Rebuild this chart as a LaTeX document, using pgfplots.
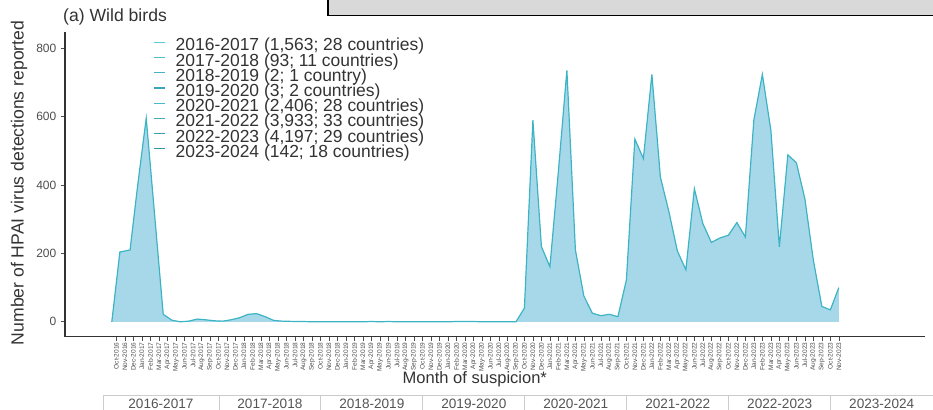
\documentclass[border=0pt]{standalone}
\usepackage{pgfplots}
\pgfplotsset{compat=1.18}
\usepackage{pgfplotstable}
\usepackage{fontspec}
\setmainfont{Liberation Sans}

\definecolor{areafill}{HTML}{A6D8EA}
\definecolor{arealine}{HTML}{3DB4C4}
\definecolor{sA}{HTML}{5CCBDA}
\definecolor{sB}{HTML}{4DBFCF}
\definecolor{sC}{HTML}{45B3C2}
\definecolor{sD}{HTML}{3AA5B4}
\definecolor{sE}{HTML}{48BBCB}
\definecolor{sF}{HTML}{40AEBE}
\definecolor{sG}{HTML}{38A2B2}
\definecolor{sH}{HTML}{2F96A5}
\definecolor{axisgrey}{HTML}{333333}
\definecolor{ticktext}{HTML}{4D4D4D}
\definecolor{stripline}{HTML}{CCCCCC}
\definecolor{striptext}{HTML}{555555}
\definecolor{panelgrey}{HTML}{D9D9D9}

% Monthly HPAI detections in wild birds, month 0 = October 2016
\pgfplotstableread{
month count
-0.55 0
0.4 204
1.6 210
2.5 400
3.5 595
4.5 309
5.5 22
6.5 5
7.5 0
8.5 2
9.5 8
10.5 6
11.5 3
12.5 2
13.5 6
14.5 12
15.5 22
16.5 24
17.5 15
18.5 4
19.5 2
21 1
22 1
23 0
24 0
25 0
26 0
27 0
28 0
29 0
30 1
31 0
32 1
33 0
34 0
35 0
36 0
37 0
38 0
39 0
40 1
41 1
42 1
43 0
44 0
45 0
46 0
47 0
48 40
49 589
50 220
51 161
52 440
53 735
54 210
55 75
56 25
57 18
58 22
59 15
60 122
61 534
62 477
63 723
64 423
65 322
66 207
67 152
68 389
69 287
70 232
71 245
72 253
73 290
74 248
75 590
76 723
77 560
78 219
79 488
80 465
81 360
82 180
83 45
84 35
85 100
}\wildbirds

\begin{document}
\begin{tikzpicture}
\path[use as bounding box] (0,0) rectangle (700pt,307.5pt);
\begin{axis}[
  at={(48.75pt,54.75pt)}, anchor=south west,
  scale only axis, width=645pt, height=228.75pt,
  xmin=-6.06, xmax=95.1, ymin=-44, ymax=847,
  axis x line*=bottom, axis y line*=left,
  axis line style={axisgrey, line width=0.8pt, -},
  ytick={0,200,400,600,800},
  xtick={0,...,85},
  xticklabels={Oct-2016,Nov-2016,Dec-2016,Jan-2017,Feb-2017,Mar-2017,Apr-2017,May-2017,Jun-2017,Jul-2017,Aug-2017,Sep-2017,
    Oct-2017,Nov-2017,Dec-2017,Jan-2018,Feb-2018,Mar-2018,Apr-2018,May-2018,Jun-2018,Jul-2018,Aug-2018,Sep-2018,
    Oct-2018,Nov-2018,Dec-2018,Jan-2019,Feb-2019,Mar-2019,Apr-2019,May-2019,Jun-2019,Jul-2019,Aug-2019,Sep-2019,
    Oct-2019,Nov-2019,Dec-2019,Jan-2020,Feb-2020,Mar-2020,Apr-2020,May-2020,Jun-2020,Jul-2020,Aug-2020,Sep-2020,
    Oct-2020,Nov-2020,Dec-2020,Jan-2021,Feb-2021,Mar-2021,Apr-2021,May-2021,Jun-2021,Jul-2021,Aug-2021,Sep-2021,
    Oct-2021,Nov-2021,Dec-2021,Jan-2022,Feb-2022,Mar-2022,Apr-2022,May-2022,Jun-2022,Jul-2022,Aug-2022,Sep-2022,
    Oct-2022,Nov-2022,Dec-2022,Jan-2023,Feb-2023,Mar-2023,Apr-2023,May-2023,Jun-2023,Jul-2023,Aug-2023,Sep-2023,
    Oct-2023,Nov-2023},
  tick style={ticktext, line width=0.5pt},
  major tick length=3pt,
  tick align=outside,
  yticklabel style={font=\fontsize{9}{10}\selectfont, text=ticktext},
  xticklabel style={rotate=90, anchor=east, font=\fontsize{4.9}{5}\selectfont, text=ticktext, inner sep=1pt},
  /pgf/number format/assume math mode=true,
  clip=false,
  legend style={at={(0.1023,0.9757)}, anchor=north west, draw=none, fill=none,
    inner sep=0pt, font=\fontsize{13.1}{14}\selectfont, text=axisgrey,
    cells={anchor=west}, row sep=0pt, column sep=7.5pt,
    nodes={inner sep=0pt, text height=8.5pt, text depth=2.9pt}},
  legend image code/.code={\draw[#1, line width=0.9pt] (-1pt,3.6pt) -- (7.5pt,3.6pt);},
]
\addplot[fill=areafill, draw=none, forget plot] table[x=month, y=count]{\wildbirds} \closedcycle;
\addplot[arealine, line width=0.9pt, forget plot] table[x=month, y=count]{\wildbirds};

\addlegendimage{sA}\addlegendentry{2016-2017 (1,563; 28 countries)}
\addlegendimage{sB}\addlegendentry{2017-2018 (93; 11 countries)}
\addlegendimage{sC}\addlegendentry{2018-2019 (2; 1 country)}
\addlegendimage{sD}\addlegendentry{2019-2020 (3; 2 countries)}
\addlegendimage{sE}\addlegendentry{2020-2021 (2,406; 28 countries)}
\addlegendimage{sF}\addlegendentry{2021-2022 (3,933; 33 countries)}
\addlegendimage{sG}\addlegendentry{2022-2023 (4,197; 29 countries)}
\addlegendimage{sH}\addlegendentry{2023-2024 (142; 18 countries)}
\end{axis}

% annotations laid out in pixel-like units, origin top left
\begin{scope}[x=0.75pt, y=-0.75pt, yshift=307.5pt]
  % edge of the neighbouring panel
  \fill[panelgrey] (328,-5) rectangle (940,15.5);
  \draw[black, line width=1pt] (328,-5) -- (328,15.5) -- (940,15.5);
  % titles
  \node[anchor=base west, inner sep=0pt, font=\fontsize{13.2}{14}\selectfont, text=axisgrey] at (63,21.5) {(a) Wild birds};
  \node[rotate=90, inner sep=0pt, font=\fontsize{13.2}{14}\selectfont, text=axisgrey] at (19,183) {Number of HPAI virus detections reported};
  \node[inner sep=0pt, font=\fontsize{12.4}{13}\selectfont, text=axisgrey] at (475,379) {Month of suspicion*};
  % season strip
  \foreach \a/\b in {103/219, 219/321, 321/423, 423/525, 525/627, 627/729, 729/831, 831/945}{
    \draw[stripline, line width=0.6pt, fill=white] (\a,396) rectangle (\b,416);
  }
  \foreach \c/\s in {161/2016-2017, 270/2017-2018, 372/2018-2019, 474/2019-2020,
                     576/2020-2021, 678/2021-2022, 780/2022-2023, 882/2023-2024}{
    \node[inner sep=0pt, font=\fontsize{10.2}{11}\selectfont, text=striptext] at (\c,403.5) {\s};
  }
\end{scope}
\end{tikzpicture}
\end{document}
